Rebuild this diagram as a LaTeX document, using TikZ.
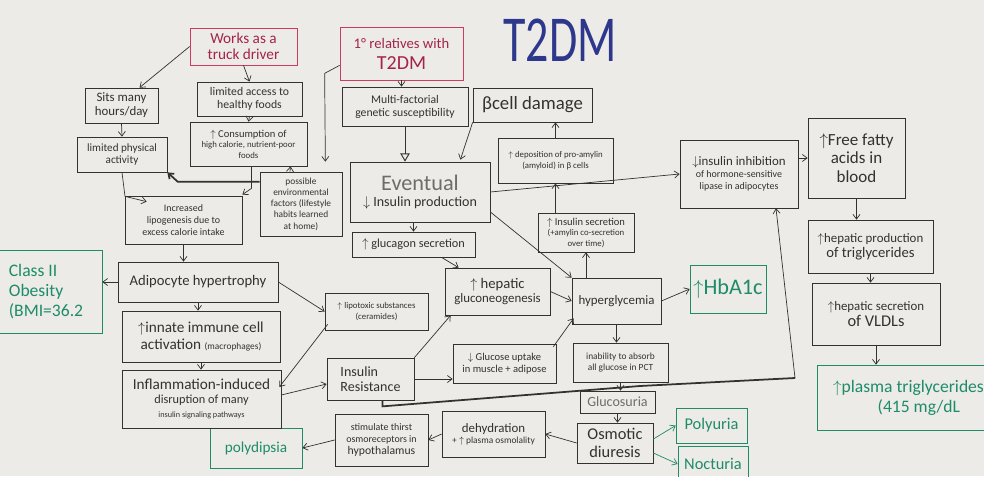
\documentclass[tikz,border=0pt]{standalone}
\usepackage{fontspec}
\setmainfont{Carlito}
\usepackage{graphicx}
\usetikzlibrary{calc,arrows.meta}

\definecolor{board}{RGB}{236,235,231}
\definecolor{ink}{RGB}{50,50,48}
\definecolor{paleink}{RGB}{110,110,105}
\definecolor{redline}{RGB}{205,60,95}
\definecolor{redink}{RGB}{165,35,75}
\definecolor{titleblue}{RGB}{45,55,140}
\definecolor{greenink}{RGB}{30,140,105}

\newcommand\fsz[2]{\fontsize{#1}{#2}\selectfont}
\newcommand\upar{$\uparrow$}
\newcommand\dnar{$\downarrow$}

\tikzset{
  box/.style={draw=ink, line width=0.6pt, align=center, inner sep=1pt, text=ink},
  redbox/.style={box, draw=redline, text=redink},
  greenbox/.style={box, draw=greenink, text=greenink},
  sz/.style 2 args={minimum width=#1*0.03cm, minimum height=#2*0.03cm},
  arr/.style={-{Straight Barb[length=4pt,width=6pt]}, draw=ink, line width=0.6pt},
  greenarr/.style={arr, draw=greenink},
  heavy/.style={draw=ink, line width=1.5pt},
}

\begin{document}
\begin{tikzpicture}[x=0.03cm, y=-0.03cm]

\fill[board] (0,0) rectangle (984,476);
\useasboundingbox (0,0) rectangle (984,476);
\clip (0,0) rectangle (984,476);

\node[text=titleblue, font=\fsz{56}{56}] (title) at (560,40) {\scalebox{0.7}[1]{T2DM}};

% lifestyle
\node[redbox, sz={107}{37}, font=\fsz{13}{14}] (works) at (243.5,46.5) {Works as a\\truck driver};
\node[box, sz={73}{35}, font=\fsz{11}{12}] (sits) at (121.5,105.5) {Sits many\\hours/day};
\node[box, sz={105}{34}, font=\fsz{10}{11.5}] (access) at (249.5,99) {limited access to\\healthy foods};
\node[box, sz={117}{44}, font=\fsz{7.5}{9}] (consumption) at (248.5,144) {{\fsz{9}{10}\upar\ Consumption of}\\high calorie, nutrient-poor\\foods};
\node[box, sz={90}{35}, font=\fsz{9.5}{11}] (physical) at (122,154.5) {limited physical\\activity};
\node[box, sz={82}{64}, font=\fsz{8}{9.6}] (env) at (301,204) {possible\\environmental\\factors (lifestyle\\habits learned\\at home)};
\node[box, sz={117}{48}, font=\fsz{8.5}{10}] (lipogenesis) at (183.5,220) {Increased\\lipogenesis due to\\excess calorie intake};

% genetics and beta cells
\node[redbox, sz={123}{53}, font=\fsz{12.5}{18}] (relatives) at (401.5,53.5) {1° relatives with\\{\fsz{17}{18}T2DM}};
\node[box, sz={126}{39}, font=\fsz{10}{11}] (genetic) at (405,106.5) {Multi-factorial\\genetic susceptibility};
\node[box, sz={119}{34}, font=\fsz{16}{17}] (beta) at (532.5,105) {βcell damage};
\node[box, sz={115}{45}, font=\fsz{7.5}{9}] (deposition) at (555.5,160.5) {\upar\ deposition of pro-amylin\\(amyloid) in β cells};
\node[box, sz={140}{60}, font=\fsz{12}{14}] (eventual) at (420,192) {{\fsz{19}{20}\color{paleink}Eventual}\\\dnar\ Insulin production};
\node[box, sz={96}{39}, font=\fsz{7.5}{9}] (secretion) at (586,232.5) {{\fsz{9}{10}\upar\ Insulin secretion}\\(+amylin co-secretion\\over time)};
\node[box, sz={123}{25}, font=\fsz{10.5}{12}] (glucagon) at (413.5,244.5) {\upar\ glucagon secretion};
\node[box, sz={105}{47}, font=\fsz{11}{12.5}] (gluconeo) at (497.5,291.5) {{\fsz{12.5}{13}\upar\ hepatic}\\gluconeogenesis};
\node[box, sz={89}{46}, font=\fsz{11}{12}] (hyper) at (616.5,301) {hyperglycemia};
\node[greenbox, sz={76}{48}, font=\fsz{19}{20}] (hba1c) at (728,289) {\upar HbA1c};
\node[box, sz={103}{37}, font=\fsz{7.5}{9}] (lipotoxic) at (376.5,311.5) {\upar\ lipotoxic substances\\(ceramides)};
\node[box, sz={103}{39}, font=\fsz{9}{10.5}] (uptake) at (504.5,363.5) {\dnar\ Glucose uptake\\in muscle + adipose};
\node[box, sz={95}{39}, font=\fsz{8}{9.5}] (inability) at (620.5,362.5) {inability to absorb\\all glucose in PCT};
\node[box, sz={87}{42}, font=\fsz{12}{13}, align=left] (ir) at (370.5,379) {Insulin\\Resistance};
\node[box, sz={75}{22}, font=\fsz{12}{13}, text=paleink] (glucosuria) at (617.5,402) {Glucosuria};
\node[box, sz={76}{40}, font=\fsz{14}{15}] (osmotic) at (615,443) {Osmotic\\diuresis};
\node[greenbox, sz={71}{35}, font=\fsz{14}{15}] (polyuria) at (711.5,425.5) {Polyuria};
\node[greenbox, sz={70}{36}, font=\fsz{14}{15}] (nocturia) at (713,464) {Nocturia};
\node[box, sz={103}{46}, font=\fsz{8}{9.5}] (dehyd) at (493.5,434) {{\fsz{11}{12}dehydration}\\+ \upar\ plasma osmolality};
\node[box, sz={93}{52}, font=\fsz{8.5}{10}] (thirst) at (381.5,440) {stimulate thirst\\osmoreceptors in\\{\fsz{10}{11}hypothalamus}};
\node[greenbox, sz={92}{40}, font=\fsz{13}{14}] (polydipsia) at (256,448) {polydipsia};

% adipose tissue
\node[greenbox, sz={112}{83}, font=\fsz{15}{17}, align=left] (obesity) at (46,291.5) {Class II\\Obesity\\(BMI=36.2};
\node[box, sz={160}{40}, font=\fsz{12.5}{13}] (adipocyte) at (198,282) {Adipocyte hypertrophy};
\node[box, sz={158}{51}, font=\fsz{13}{14}] (innate) at (201,336.5) {\upar innate immune cell\\activation {\fsz{8}{9}(macrophages)}};
\node[box, sz={159}{58}, font=\fsz{10.5}{12}] (inflam) at (201.5,399) {{\fsz{13}{14}Inflammation-induced}\\disruption of many\\{\fsz{7}{8}insulin signaling pathways}};

% lipids
\node[box, sz={118}{68}, font=\fsz{8.5}{10}] (inhibition) at (739,174) {{\fsz{11}{12}\dnar insulin inhibition}\\of hormone-sensitive\\lipase in adipocytes};
\node[box, sz={97}{80}, font=\fsz{14.5}{16}] (ffa) at (856.5,158) {\upar Free fatty\\acids in\\blood};
\node[box, sz={125}{53}, font=\fsz{11}{13}] (hepprod) at (870.5,246.5) {\upar hepatic production\\{\fsz{12.5}{13}of triglycerides}};
\node[box, sz={128}{62}, font=\fsz{11}{13}] (vldl) at (876,314) {\upar hepatic secretion\\{\fsz{14}{15}of VLDLs}};
\node[greenbox, sz={183}{65}, font=\fsz{15}{17}, align=left] (plasma) at (908.5,397.5) {\upar plasma triglycerides\\\hspace*{38pt}(415 mg/dL};

% arrows
\draw[arr] (works.west) -- ($(sits.north)+(18,0)$);
\draw[arr] (works.south) -- (access.north);
\draw[arr] (access.south) -- (consumption.north);
\draw[arr] (sits.south) -- (physical.north);
\draw[arr] ($(consumption.south)+(3,0)$) -- ++(0,22) -- ($(lipogenesis.north east)+(0,-1)$);
\draw[arr] (physical.south) -- ++(3,24) -- ($(lipogenesis.north west)+(22,6)$);
\draw[arr, heavy] ($(env.north west)+(0,10)$) -- ++(-82,0) -- (physical.south east);
\draw[arr] ($(env.north)+(-11,0)$) -- ($(consumption.south)+(42,0)$);
\draw[arr] ($(relatives.south west)+(0,-15)$) -- ++(-15,8) -- ($(env.north east)+(-17,-10)$);
\draw[arr] (relatives.south) -- (relatives.south |- genetic.north);
\draw[line width=0.8pt, draw=ink, -{Triangle[open,length=7pt,width=8pt]}] (genetic.south) -- (genetic.south |- eventual.north);
\draw[arr] (beta.south west) -- ($(eventual.north east)+(-30,-2)$);
\draw[arr] (deposition.north) -- (deposition.north |- beta.south);
\draw[arr] (secretion.north -| deposition.south) -- (deposition.south);
\draw[arr] (eventual.east) -- (inhibition.west);
\draw[arr] ($(eventual.east)+(0,20)$) -- (hyper.north west);
\draw[arr] (glucagon.north |- eventual.south) -- (glucagon.north);
\draw[arr] ($(glucagon.south)+(28,0)$) -- ($(gluconeo.north west)+(14,0)$);
\draw[arr] (gluconeo.east) -- (hyper.west);
\draw[arr] ($(uptake.north east)+(-3,3)$) -- ($(hyper.south west)+(2,-6)$);
\draw[arr] (secretion.south |- hyper.north) -- (secretion.south);
\draw[arr] (hyper.east) -- (hba1c.west);
\draw[arr] (hyper.south) -- (hyper.south |- inability.north);
\draw[arr] (inability.south) -- (inability.south |- glucosuria.north);
\draw[arr] (glucosuria.south) -- (glucosuria.south |- osmotic.north);
\draw[greenarr] ($(osmotic.east)+(0,-4)$) -- (polyuria.west);
\draw[greenarr] ($(osmotic.east)+(0,10)$) -- (nocturia.west);
\draw[arr] (osmotic.west) -- (dehyd.east);
\draw[arr] (dehyd.west) -- (thirst.east);
\draw[arr] (thirst.west) -- (polydipsia.east);
\draw[arr] (ir.east) -- (uptake.west |- ir.east);
\draw[arr] (ir.north east) -- ($(gluconeo.south west)+(6,0)$);
\coordinate (turn) at (795,378);
\draw[heavy] ($(ir.south)+(12,0)$) -- ++(0,6) -- (640,386) -- (turn);
\draw[arr] (turn) -- ($(inhibition.south)+(37,0)$);
\draw[arr] ($(inflam.east)+(0,-4)$) -- ($(ir.west)+(0,5)$);
\draw[arr] (adipocyte.east) -- (lipotoxic.west);
\draw[arr] ($(lipotoxic.south west)+(3,-6)$) -- ($(inflam.east)+(-2,-12)$);
\draw[arr] (adipocyte.west) -- (obesity.east |- adipocyte.west);
\draw[arr] (lipogenesis.south) -- (lipogenesis.south |- adipocyte.north);
\draw[arr] (adipocyte.south) -- (adipocyte.south |- innate.north);
\draw[arr] (innate.south) -- (innate.south |- inflam.north);
\draw[arr] (ffa.west -| inhibition.east) -- (ffa.west);
\draw[arr] (ffa.south) -- (ffa.south |- hepprod.north);
\draw[arr] (hepprod.south) -- (hepprod.south |- vldl.north);
\draw[arr] (vldl.south) -- (vldl.south |- plasma.north);

\end{tikzpicture}
\end{document}
